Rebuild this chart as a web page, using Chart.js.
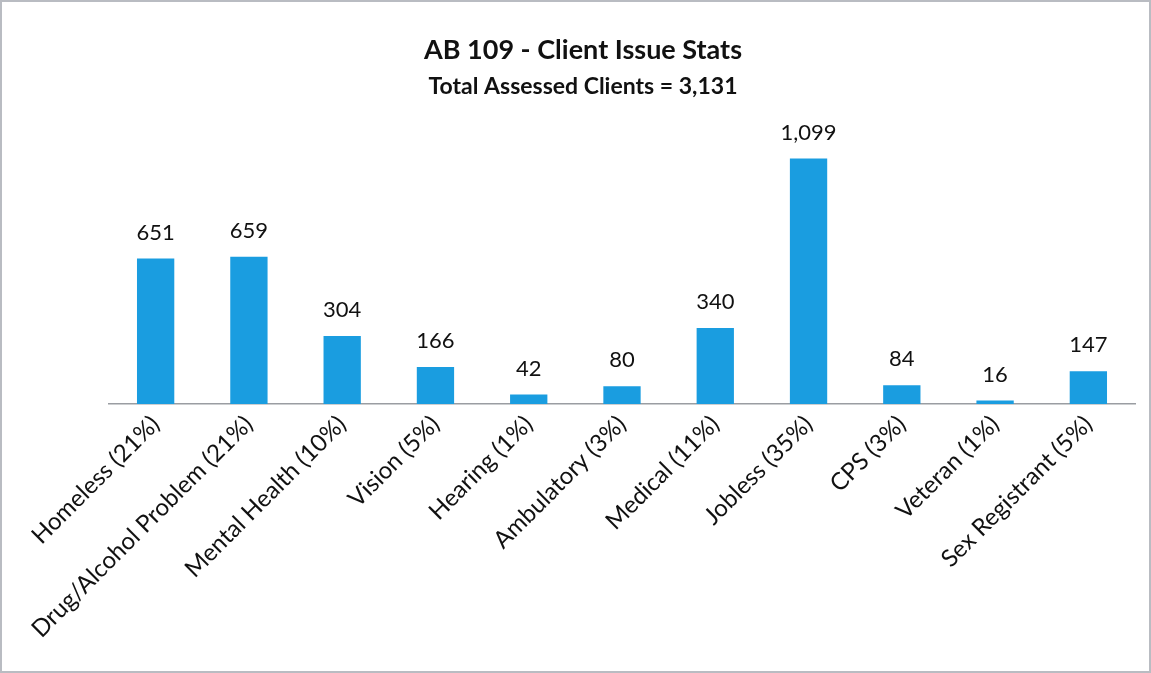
<!DOCTYPE html>
<html>
<head>
<meta charset="utf-8">
<script src="https://cdn.jsdelivr.net/npm/chart.js@4"></script>
<style>
  html, body { margin: 0; padding: 0; background: #fff; }
  #wrap { position: relative; width: 1151px; height: 673px; box-sizing: border-box; border: 2px solid #b9bcc2; }
</style>
</head>
<body>
<div id="wrap"><canvas id="grafico" width="1147" height="669"></canvas></div>
<script>
// dados do gráfico
const categorias = ['Homeless (21%)', 'Drug/Alcohol Problem (21%)', 'Mental Health (10%)', 'Vision (5%)', 'Hearing (1%)',
    'Ambulatory (3%)', 'Medical (11%)', 'Jobless (35%)', 'CPS (3%)', 'Veteran (1%)', 'Sex Registrant (5%)'];
const clientes = [651, 659, 304, 166, 42, 80, 340, 1099, 84, 16, 147];
const titulo = 'AB 109 - Client Issue Stats';
const subtitulo = 'Total Assessed Clients = 3,131';

// escreve o valor em cima de cada barra
const rotulosValor = {
    id: 'rotulosValor',
    afterDatasetsDraw(chart) {
        const ctx = chart.ctx;
        const meta = chart.getDatasetMeta(0);
        ctx.save();
        ctx.font = '22px Lato';
        ctx.fillStyle = '#111';
        ctx.textAlign = 'center';
        ctx.textBaseline = 'bottom';
        meta.data.forEach((bar, i) => {
            ctx.fillText(clientes[i].toLocaleString('en-US'), bar.x, bar.y - 15);
        });
        ctx.restore();
    }
};

new Chart(document.getElementById('grafico').getContext('2d'), {
    type: 'bar',
    data: {
        labels: categorias,
        datasets: [{
            data: clientes,
            backgroundColor: '#1a9de0',
            borderWidth: 0,
            barPercentage: 0.4,
            categoryPercentage: 1
        }]
    },
    options: {
        responsive: false,
        animation: false,
        layout: { padding: { left: 29, right: 14, top: 32, bottom: 0 } },
        plugins: {
            legend: { display: false },
            tooltip: { enabled: false },
            title: {
                display: true,
                text: titulo,
                color: '#111',
                font: { family: 'Lato', size: 27, weight: 'bold' },
                padding: { top: 0, bottom: 6 }
            },
            subtitle: {
                display: true,
                text: subtitulo,
                color: '#111',
                font: { family: 'Lato', size: 23, weight: 'bold' },
                padding: { top: 0, bottom: 36 }
            }
        },
        scales: {
            x: {
                grid: { display: false, drawTicks: false },
                border: { display: true, color: '#9a9da2', width: 1.5, dash: [4, 2] },
                ticks: {
                    color: '#111',
                    font: { family: 'Lato', size: 24 },
                    minRotation: 45,
                    maxRotation: 45,
                    padding: 6,
                    autoSkip: false
                },
                afterFit(scale) { scale.height = 267; }
            },
            y: {
                display: true,
                min: 0,
                max: 1200,
                grid: { display: false, drawTicks: false },
                border: { display: false },
                ticks: { display: false },
                afterFit(scale) { scale.width = 78; }
            }
        }
    },
    plugins: [rotulosValor]
});
</script>
</body>
</html>
